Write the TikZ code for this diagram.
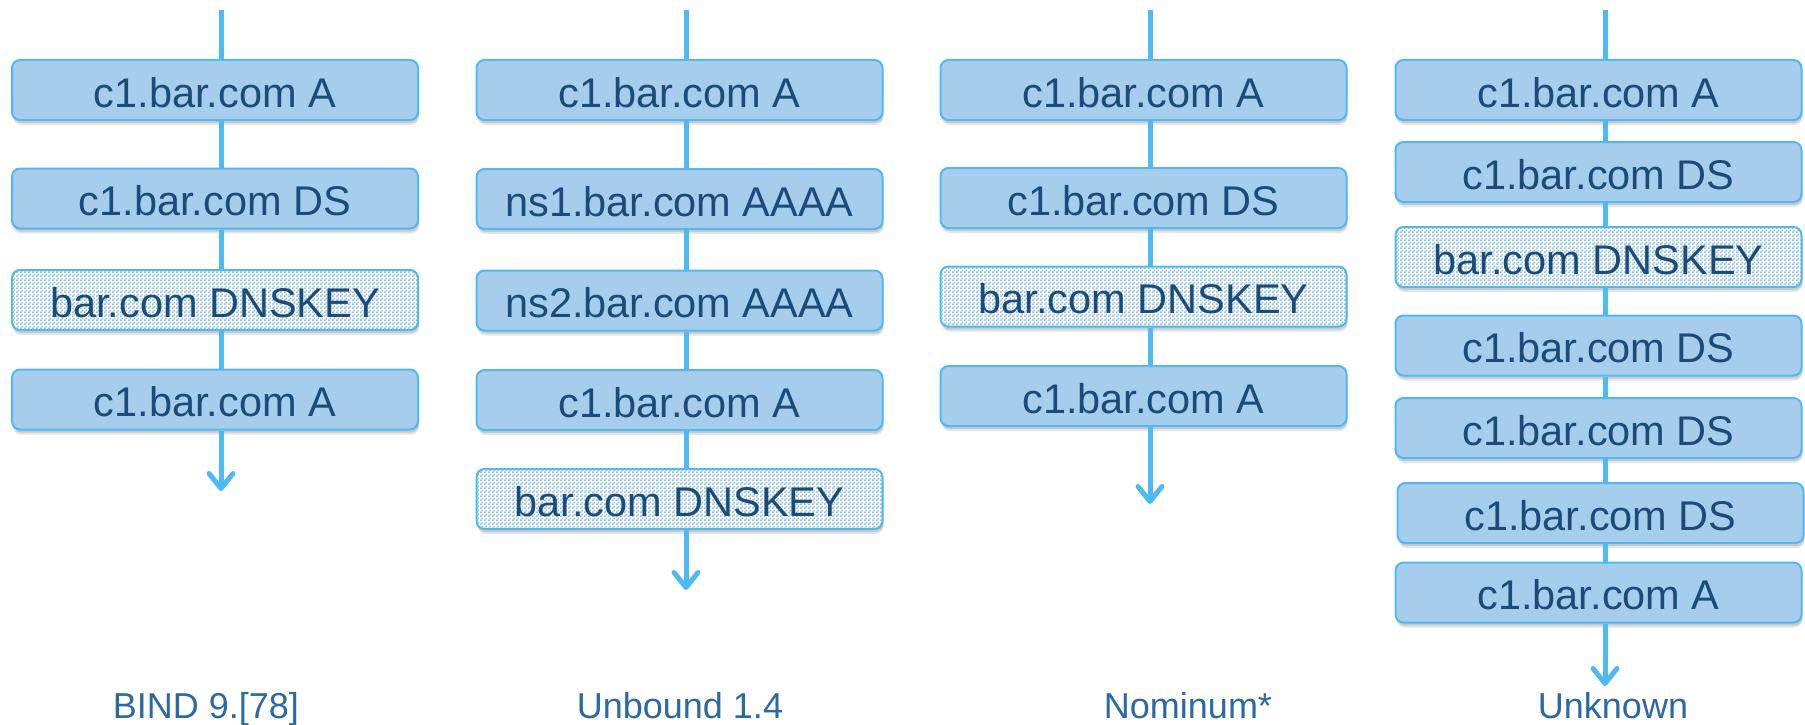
\documentclass[tikz,border=0pt]{standalone}
\usepackage{fontspec}
\setmainfont{Liberation Sans}
\usetikzlibrary{arrows.meta,shadows,patterns.meta}
\definecolor{boxfill}{RGB}{167,205,237}
\definecolor{boxline}{RGB}{77,186,245}
\definecolor{boxtext}{RGB}{27,75,120}
\definecolor{labtext}{RGB}{43,104,166}
\definecolor{patcol}{RGB}{140,190,236}
\pgfdeclarepattern{
  name=finechecker,
  type=uncolored,
  bottom left={\pgfpointorigin},
  top right={\pgfpoint{4pt}{4pt}},
  tile size={\pgfpoint{4pt}{4pt}},
  code={
    \pgfpathrectangle{\pgfpointorigin}{\pgfpoint{2pt}{2pt}}
    \pgfpathrectangle{\pgfpoint{2pt}{2pt}}{\pgfpoint{2pt}{2pt}}
    \pgfusepath{fill}
  }
}
\tikzset{
  rec/.style={draw=boxline, line width=2pt, rounded corners=8pt,
    minimum width=406pt, minimum height=60pt, inner sep=0pt,
    text height=34pt, text depth=0pt, text=boxtext,
    font=\fontsize{41.5pt}{49pt}\selectfont,
    general shadow={fill=black, opacity=0.10, shadow xshift=1pt, shadow yshift=-5pt},
    general shadow={fill=black, opacity=0.12, shadow xshift=1pt, shadow yshift=-3pt}},
  recfill/.style={rec, fill=boxfill},
  recpat/.style={rec, preaction={fill=white}, pattern={finechecker}, pattern color=patcol},
  conn/.style={draw=boxline, line width=5pt},
  connarr/.style={conn, -{Straight Barb[length=15pt,width=24pt,round]}},
  lab/.style={anchor=base, text=labtext, inner sep=0pt, font=\fontsize{36pt}{43pt}\selectfont}
}
\begin{document}
\begin{tikzpicture}[x=1pt,y=-1pt]
\useasboundingbox (0,0) rectangle (1805,725);
% column 1
\coordinate (t1) at (221,10);
\coordinate (e1) at (221,491);
\node[recfill] (a1) at (215,90) {c1.bar.com A};
\node[recfill] (a2) at (215,198.5) {c1.bar.com DS};
\node[recpat]  (a3) at (215,300) {bar.com DNSKEY};
\node[recfill] (a4) at (215,399.5) {c1.bar.com A};
\draw[conn] (t1) -- (t1 |- a1.north);
\draw[conn] (a1.south -| t1) -- (a2.north -| t1);
\draw[conn] (a2.south -| t1) -- (a3.north -| t1);
\draw[conn] (a3.south -| t1) -- (a4.north -| t1);
\draw[connarr] (a4.south -| t1) -- (e1);
\node[lab] (l1) at (206,718) {BIND 9.[78]};
% column 2
\coordinate (t2) at (686,10);
\coordinate (e2) at (686,590);
\node[recfill] (b1) at (679.5,90) {c1.bar.com A};
\node[recfill] (b2) at (679.5,199) {ns1.bar.com AAAA};
\node[recfill] (b3) at (679.5,300.5) {ns2.bar.com AAAA};
\node[recfill] (b4) at (679.5,400) {c1.bar.com A};
\node[recpat]  (b5) at (679.5,499) {bar.com DNSKEY};
\draw[conn] (t2) -- (t2 |- b1.north);
\draw[conn] (b1.south -| t2) -- (b2.north -| t2);
\draw[conn] (b2.south -| t2) -- (b3.north -| t2);
\draw[conn] (b3.south -| t2) -- (b4.north -| t2);
\draw[conn] (b4.south -| t2) -- (b5.north -| t2);
\draw[connarr] (b5.south -| t2) -- (e2);
\node[lab] (l2) at (680,718) {Unbound 1.4};
% column 3
\coordinate (t3) at (1150,10);
\coordinate (e3) at (1150,504);
\node[recfill] (c1) at (1143.5,90) {c1.bar.com A};
\node[recfill] (c2) at (1143.5,198) {c1.bar.com DS};
\node[recpat]  (c3) at (1143.5,296.5) {bar.com DNSKEY};
\node[recfill] (c4) at (1143.5,396) {c1.bar.com A};
\draw[conn] (t3) -- (t3 |- c1.north);
\draw[conn] (c1.south -| t3) -- (c2.north -| t3);
\draw[conn] (c2.south -| t3) -- (c3.north -| t3);
\draw[conn] (c3.south -| t3) -- (c4.north -| t3);
\draw[connarr] (c4.south -| t3) -- (e3);
\node[lab] (l3) at (1188,718) {Nominum*};
% column 4
\coordinate (t4) at (1605,10);
\coordinate (e4) at (1605,686);
\node[recfill] (d1) at (1598.5,90) {c1.bar.com A};
\node[recfill] (d2) at (1598.5,172) {c1.bar.com DS};
\node[recpat]  (d3) at (1598.5,257) {bar.com DNSKEY};
\node[recfill] (d4) at (1598.5,345.5) {c1.bar.com DS};
\node[recfill] (d5) at (1598.5,428) {c1.bar.com DS};
\node[recfill] (d6) at (1600.5,513) {c1.bar.com DS};
\node[recfill] (d7) at (1598.5,592.5) {c1.bar.com A};
\draw[conn] (t4) -- (t4 |- d1.north);
\draw[conn] (d1.south -| t4) -- (d2.north -| t4);
\draw[conn] (d2.south -| t4) -- (d3.north -| t4);
\draw[conn] (d3.south -| t4) -- (d4.north -| t4);
\draw[conn] (d4.south -| t4) -- (d5.north -| t4);
\draw[conn] (d5.south -| t4) -- (d6.north -| t4);
\draw[conn] (d6.south -| t4) -- (d7.north -| t4);
\draw[connarr] (d7.south -| t4) -- (e4);
\node[lab] (l4) at (1613,718) {Unknown};
\end{tikzpicture}
\end{document}
